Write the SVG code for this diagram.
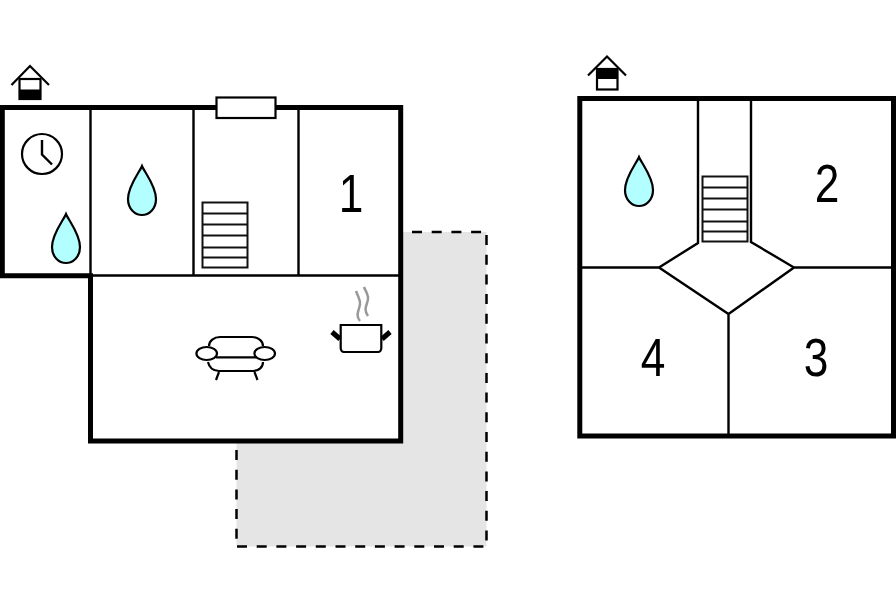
<svg xmlns="http://www.w3.org/2000/svg" width="896" height="597" viewBox="0 0 896 597">
<style>
.w{fill:none;stroke:#000;stroke-width:5;stroke-linejoin:miter;stroke-linecap:square}
.t{fill:none;stroke:#000;stroke-width:2.400}
.s{fill:#fff;stroke:#111;stroke-width:2}
.d{fill:#b3ffff;stroke:#000;stroke-width:2.200}
.n{font-family:"Liberation Sans",Arial,sans-serif;font-size:54px;fill:#000;text-anchor:middle}
.h{fill:none;stroke:#000;stroke-width:2.200}
.da{fill:none;stroke:#000;stroke-width:2.500;stroke-dasharray:10 9.700}
</style>
<defs>
<path id="drop" d="M0 0C-3 7-14 20-14 33C-14 43-7 49 0 49C7 49 14 43 14 33C14 20 3 7 0 0Z"/>
<g id="stairs"><rect x="0" y="0" width="45" height="65" class="s"/><path d="M0 11H45M0 22H45M0 33H45M0 45H45M0 55H45" class="s"/></g>
</defs>
<g id="terrace"><rect x="236.500" y="232" width="250" height="314.500" fill="#e5e5e5"/>
<path class="da" d="M412 232H486"/><path class="da" d="M486.500 235V546"/><path class="da" d="M237 546.500H486"/><path class="da" d="M236.500 450V546"/></g>
<g id="plan-left">
<rect x="90" y="107.500" width="311" height="334" fill="#fff"/>
<rect x="2" y="107.500" width="88" height="168" fill="#fff"/>
<path class="t" d="M90.500 108V275M193.500 108V275M298.500 108V275M90 275.500H400"/>
<path class="w" d="M2.300 107.500H400.700V441H90.500V275.700H2.300Z"/>
<rect x="216.500" y="97.500" width="59" height="20.500" fill="#fff" stroke="#000" stroke-width="2.200"/>
</g>
<g id="clock"><circle cx="42" cy="154" r="20" fill="#fff" stroke="#000" stroke-width="2.200"/><path class="t" d="M42 140V154.500L52 164.500"/></g>
<use id="drop-1" href="#drop" x="66" y="214" class="d"/>
<use id="drop-2" href="#drop" x="142" y="166" class="d"/>
<use id="stairs-1" href="#stairs" x="202.500" y="202.500"/>
<text id="label-1" class="n" transform="translate(351 212) scale(.82 1)">1</text>
<g id="house-1"><rect x="19.500" y="79" width="21" height="20" fill="#fff" stroke="#000" stroke-width="2.200"/><rect x="19.500" y="89.500" width="21" height="10" fill="#000"/><path class="h" d="M11.500 85L30 66L49 85"/></g>
<g id="sofa" fill="#fff" stroke="#000" stroke-width="2.200">
<path d="M209 346C209 341 214 337 220 337H252C258 337 263 341 263 346" fill="none"/>
<path d="M208 362C209 367 213 371 219 371H253C259 371 263 367 263 362" fill="none"/>
<path d="M219 372L216 380M254.500 372L257.500 380M216 357.300H256" fill="none"/>
<ellipse cx="206.700" cy="353.500" rx="10.300" ry="6.500"/><ellipse cx="264.700" cy="353.500" rx="10.300" ry="6.500"/>
</g>
<g id="pot">
<path d="M360 321C354 314 361 308 360 302C359 297 357 294 356 291M368 316C362 308 369 303 368 297C367 292 365 290 364 287" fill="none" stroke="#999" stroke-width="2.500"/>
<path d="M340.700 325H381.300V348C381.300 350 380 352 378 352H344C342 352 340.700 350 340.700 348Z" fill="#fff" stroke="#000" stroke-width="2.200"/>
<path d="M340 339L332 332M382 339L390 332" stroke="#000" stroke-width="5" fill="none"/>
</g>
<g id="plan-right">
<rect x="579.500" y="98.500" width="314" height="337.500" fill="#fff"/>
<path class="t" d="M698 99V243L659 267.500L728.500 314L794 267.500L751 242V99M581 267.500H659M794 267.500H892M728.500 314V435"/>
<path class="w" d="M579.800 98.500H893.500V436H579.800Z"/>
</g>
<use id="drop-3" href="#drop" x="639" y="157" class="d"/>
<use id="stairs-2" href="#stairs" x="702.500" y="176.500"/>
<text id="label-2" class="n" transform="translate(827 202) scale(.82 1)">2</text>
<text id="label-3" class="n" transform="translate(816 376) scale(.82 1)">3</text>
<text id="label-4" class="n" transform="translate(653 376) scale(.82 1)">4</text>
<g id="house-2"><rect x="597" y="69" width="20.500" height="20.500" fill="#fff" stroke="#000" stroke-width="2.200"/><rect x="597" y="69" width="20.500" height="10" fill="#000"/><path class="h" d="M588 75.500L607 56.500L626 75.500"/></g>
</svg>
